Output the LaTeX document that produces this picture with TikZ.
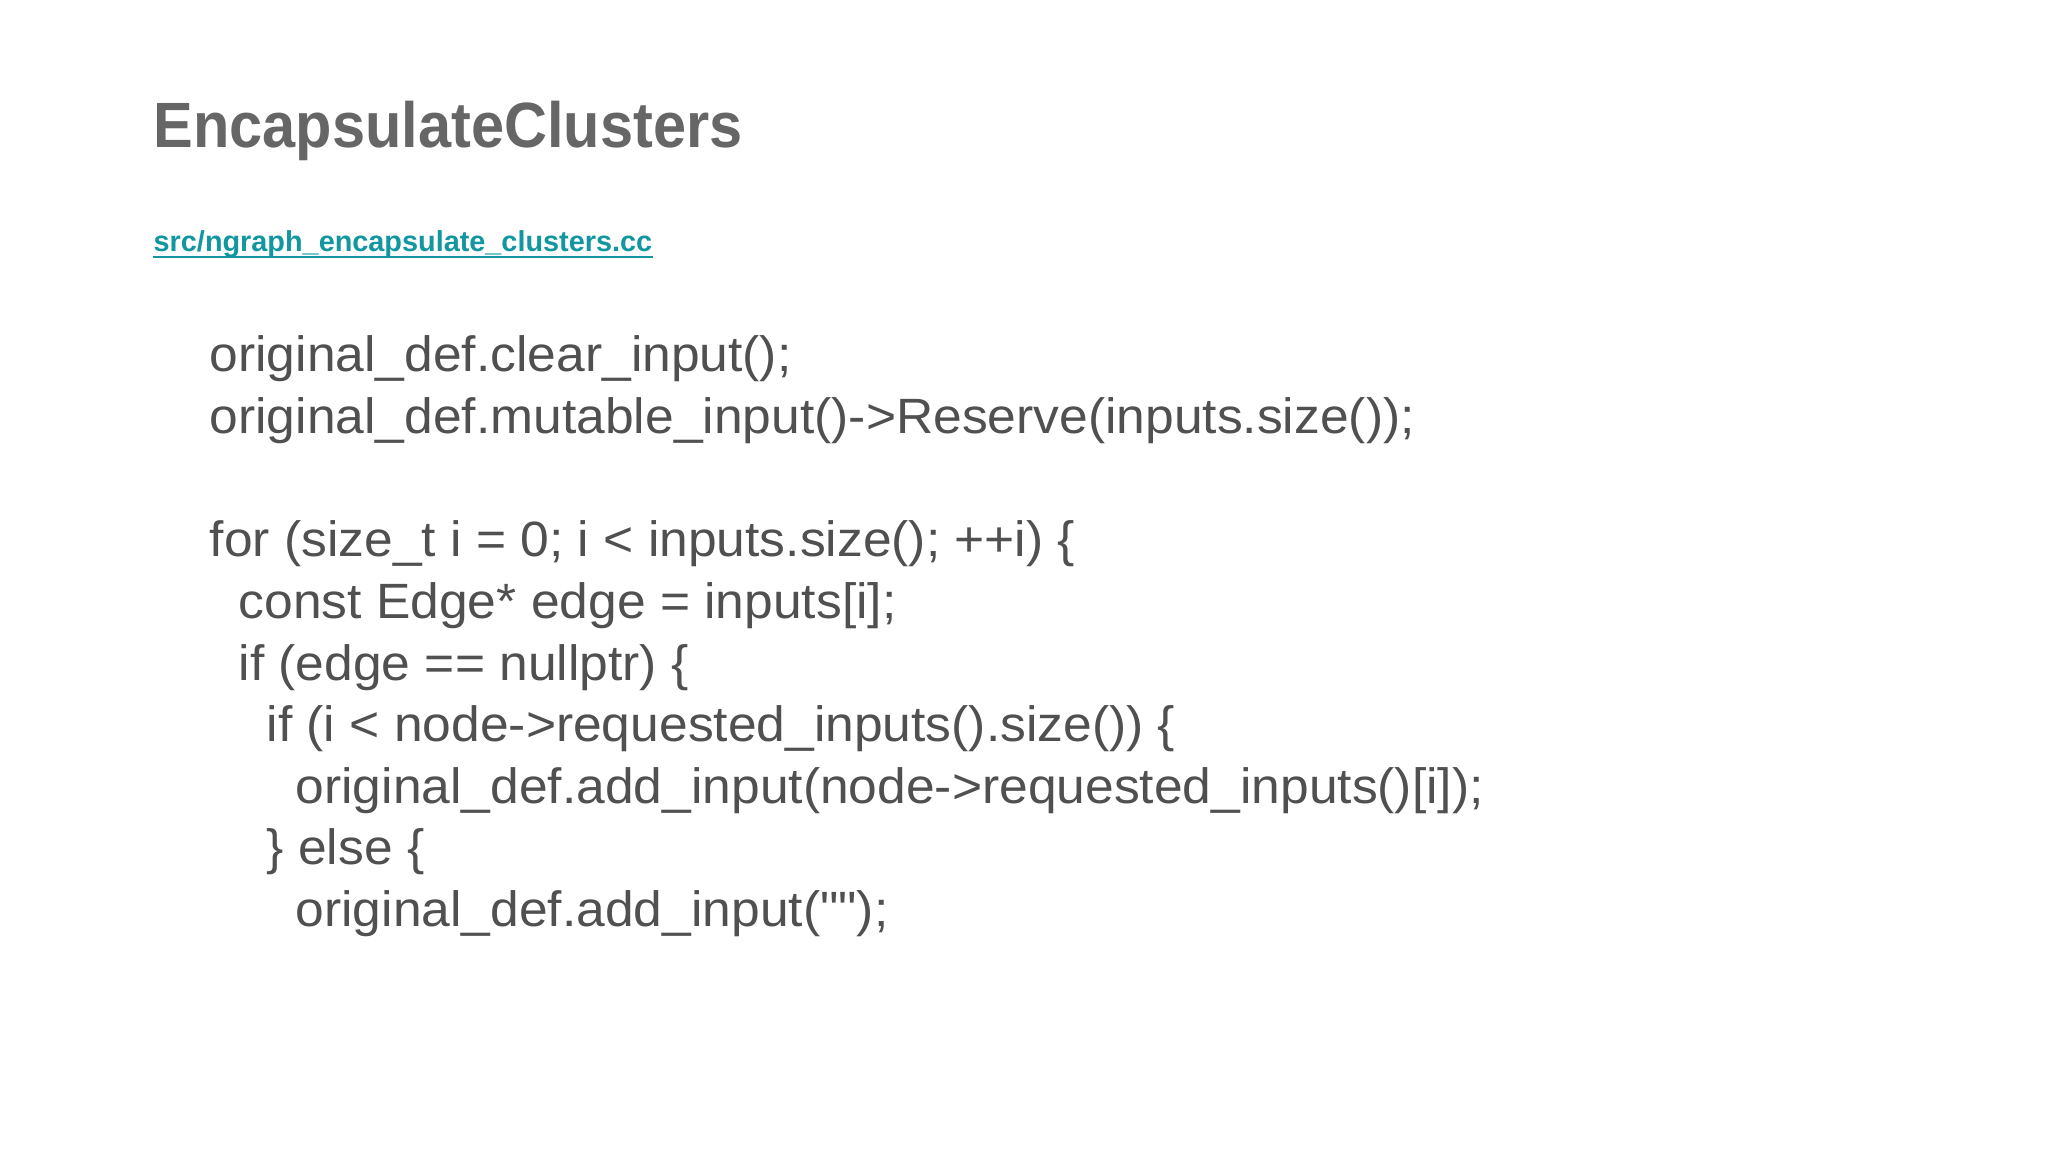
\documentclass[tikz,border=0pt]{standalone}
\usepackage{fontspec}
\setmainfont{Liberation Sans}
\newfontfamily\codefont[Ligatures=TeXOff,FakeStretch=1.04]{Liberation Sans}
\newfontfamily\titlefont[FakeStretch=0.93]{Liberation Sans}
\definecolor{codegray}{HTML}{505050}
\definecolor{titlegray}{HTML}{666666}
\definecolor{linkteal}{HTML}{1297A0}
\begin{document}
\begin{tikzpicture}[x=0.01cm,y=-0.01cm,
  code/.style={anchor=base west,inner sep=0,text=codegray,font=\codefont\fontsize{14.1}{16}\selectfont}]
\useasboundingbox[fill=white] (0,0) rectangle (2048,1152);
\node[anchor=base west,inner sep=0,text=titlegray,font=\titlefont\fontsize{18.2}{22}\selectfont\bfseries] (title) at (153,148) {EncapsulateClusters};
\node[anchor=base west,inner sep=0,text=linkteal,font=\fontsize{8.2}{10}\selectfont\bfseries] (link) at (153,252) {src/ngraph\_encapsulate\_clusters.cc};
\draw[linkteal,line width=0.6pt] ([yshift=-1.3pt]link.base west) -- ([yshift=-1.3pt]link.base east);
\node[code] (l1) at (209,372) {original\_def.clear\_input();};
\node[code] (l2) at (209,434) {original\_def.mutable\_input()->Reserve(inputs.size());};
\node[code] (l3) at (209,557) {for (size\_t i = 0; i < inputs.size(); ++i) \{};
\node[code] (l4) at (238,618) {const Edge* edge = inputs[i];};
\node[code] (l5) at (238,680) {if (edge == nullptr) \{};
\node[code] (l6) at (266,741) {if (i < node->requested\_inputs().size()) \{};
\node[code] (l7) at (295,803) {original\_def.add\_input(node->requested\_inputs()[i]);};
\node[code] (l8) at (266,864) {\} else \{};
\node[code] (l9) at (295,926) {original\_def.add\_input("");};
\end{tikzpicture}
\end{document}
